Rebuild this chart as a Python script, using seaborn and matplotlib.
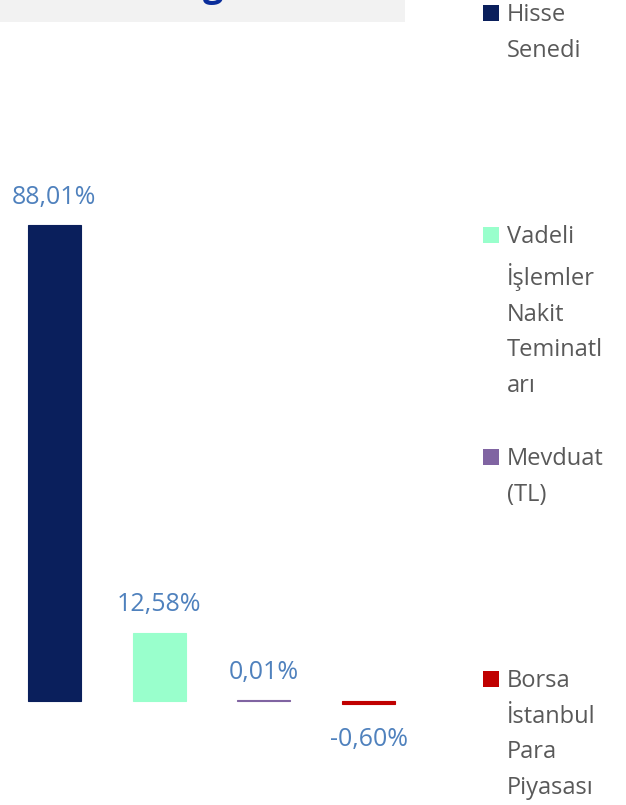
import matplotlib
matplotlib.use("Agg")
import matplotlib.pyplot as plt
import seaborn as sns
import pandas as pd
from matplotlib.patches import Rectangle

sns.set_style("white")
plt.rcParams['font.family'] = ['Open Sans', 'DejaVu Sans']

categories = ['Hisse Senedi', 'Vadeli İşlemler Nakit Teminatları', 'Mevduat (TL)',
              'Borsa İstanbul Para Piyasası']
legend_labels = ['Hisse\nSenedi', 'Vadeli\nİşlemler\nNakit\nTeminatl\narı', 'Mevduat\n(TL)',
                 'Borsa\nİstanbul\nPara\nPiyasası']
values = [88.01, 12.58, 0.01, -0.60]
colors = ['#0A1F5C', '#99FFCC', '#8064A2', '#C00000']

df = pd.DataFrame({'kategori': categories, 'getiri': values})
palette = dict(zip(categories, colors))

fig = plt.figure(figsize=(6.26, 8.05), dpi=100)

# grey title strip, cut at the top of the crop
fig.patches.append(Rectangle((0, 783 / 805), 405 / 626, 22 / 805, transform=fig.transFigure,
                             facecolor='#F2F2F2', edgecolor='none', zorder=0))
fig.text(213 / 626, 1 + 4 / 805, 'g', color='#0A2D9B', fontsize=26, fontweight='bold',
         ha='center', va='baseline')

ax = fig.add_axes([2 / 626, 0, 419 / 626, 1])
sns.barplot(data=df, x='kategori', y='getiri', hue='kategori', palette=palette,
            order=categories, hue_order=categories, dodge=False, legend=False,
            width=0.505, saturation=1, ax=ax)
# thin edge in bar colour so the tiny bars still show
for bar, c in zip(ax.patches, colors):
    bar.set_edgecolor(c)
    bar.set_linewidth(0.8)
ax.set_xlim(-0.5, 3.5)
ax.set_ylim(-19.34, 129.65)
ax.axis('off')

for i, v in enumerate(values):
    txt = f"{v:.2f}".replace('.', ',') + '%'
    off = 20.0 if v >= 0 else -26.0
    ax.annotate(txt, (i, v), xytext=(0, off), textcoords='offset points',
                ha='center', va='center', color='#4F81BD', fontsize=18)

# legend, entries evenly spaced down the right side
for i, (lab, c) in enumerate(zip(legend_labels, colors)):
    top = 13 + i * 222
    fig.patches.append(Rectangle((483 / 626, 1 - (top + 8) / 805), 16 / 626, 16 / 805,
                                 transform=fig.transFigure, facecolor=c, edgecolor='none'))
    fig.text(507 / 626, 1 - (top - 10) / 805, lab, color='#595959', fontsize=17,
             ha='left', va='top', linespacing=1.64)

fig.savefig('out.png', dpi=100)
